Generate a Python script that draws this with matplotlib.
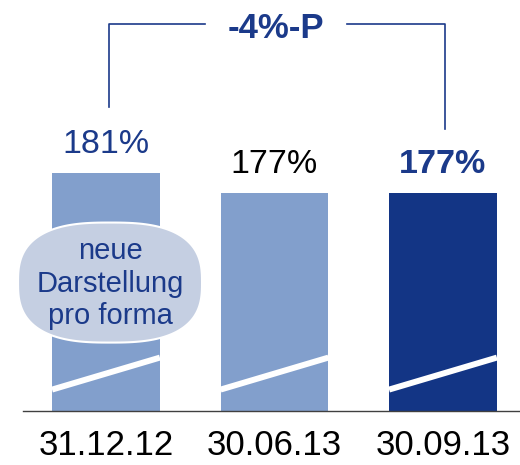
import matplotlib
matplotlib.use("Agg")
import numpy as np
import matplotlib.pyplot as plt
from matplotlib.patches import Polygon

# data
dates = ["31.12.12", "30.06.13", "30.09.13"]
ratios = [181, 177, 177]
labels = ["181%", "177%", "177%"]
change_label = "-4%-P"
note = "neue\nDarstellung\npro forma"

light = "#829fcc"
dark = "#133585"
blue_txt = "#1b3a8a"

plt.rcParams["font.family"] = ["Liberation Sans", "DejaVu Sans"]

fig = plt.figure(figsize=(5.2, 4.65), dpi=100)
ax = fig.add_axes([0.0442, 0.117, 0.9558, 0.883])

base = 133.4                                                     # axis is cut, bars start here
x = [0, 1, 2]
colors = [light, light, dark]
ax.bar(x, ratios, width=0.64, color=colors, zorder=2)
ax.set_ylim(base, base + 410.5 / 5)
ax.set_xlim(-0.4926, 2.457)

# white break lines across bars
for xi in x:
    ax.plot([xi - 0.32, xi + 0.32], [137.6, 144.0], color="white", lw=4.3,
            solid_capstyle="butt", zorder=3)

# value labels
txt_colors = [blue_txt, "black", blue_txt]
weights = ["normal", "normal", "bold"]
for xi, v, lab, c, w in zip(x, ratios, labels, txt_colors, weights):
    ax.text(xi, v + 4.0, lab, ha="center", va="baseline", fontsize=24.5,
            color=c, fontweight=w)

# bracket showing change
ytop = 210.8
ax.plot([x[0] + 0.02, x[0] + 0.02, 0.588], [194.2, ytop, ytop], color=blue_txt,
        lw=1.2, clip_on=False)
ax.plot([1.43, x[2] + 0.01, x[2] + 0.01], [ytop, ytop, 189.8], color=blue_txt,
        lw=1.2, clip_on=False)
ax.text(1.009, 208.0, change_label, ha="center", va="baseline", fontsize=25,
        fontweight="bold", color=blue_txt)

# pro forma bubble (superellipse shape)
t = np.linspace(0, 2 * np.pi, 200)
n = 2.7
cx, cy, a, b = 0.024, 159.0, 0.546, 12.0
bx = cx + a * np.sign(np.cos(t)) * np.abs(np.cos(t)) ** (2 / n)
by = cy + b * np.sign(np.sin(t)) * np.abs(np.sin(t)) ** (2 / n)
bubble = Polygon(np.column_stack([bx, by]), closed=True, facecolor="#c5cfe2",
                 edgecolor="white", lw=1.5, zorder=4, clip_on=False)
ax.add_patch(bubble)
ax.text(0.024, 158.8, note, ha="center", va="center", fontsize=21,
        color=blue_txt, linespacing=1.2, zorder=5)

ax.set_xticks(x)
ax.set_xticklabels(dates, fontsize=25)
ax.tick_params(axis="x", length=0, pad=13.5)
ax.set_yticks([])
for s in ["top", "right", "left"]:
    ax.spines[s].set_visible(False)
ax.spines["bottom"].set_color("#404040")
ax.spines["bottom"].set_linewidth(1.0)
ax.patch.set_alpha(0)

fig.savefig("out.png", dpi=100)
